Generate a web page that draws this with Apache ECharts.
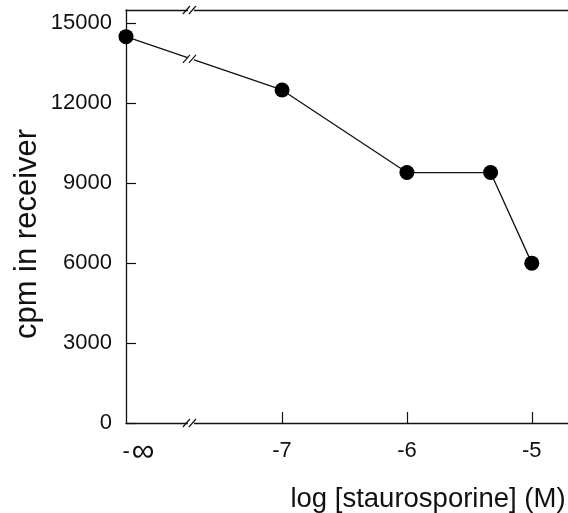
<!DOCTYPE html>
<html><head><meta charset="utf-8">
<script src="https://cdn.jsdelivr.net/npm/echarts@6/dist/echarts.min.js"></script>
<style>html,body{margin:0;padding:0;background:#fff}#c{width:568px;height:513px}</style>
</head><body><div id="c"></div>
<script>
// log concentration (x) — first value stands for -∞ (drawn left of the axis break)
const xValues = [-8.25, -7, -6, -5.33, -5];
const cpmValues = [14500, 12500, 9400, 9400, 6000];
const yTicks = [0, 3000, 6000, 9000, 12000, 15000];
const xTicks = [-7, -6, -5];
const xLabelPos = [-8.15, -7, -6, -5];
const breakX = -7.73;

const font = 'Liberation Sans, Arial, sans-serif';
const chart = echarts.init(document.getElementById('c'));
const lineData = xValues.map((x, i) => [x, cpmValues[i]]);
// y position of the break mark on the connecting segment (between first two points)
const segY = cpmValues[0] + (breakX - xValues[0]) / (xValues[1] - xValues[0]) * (cpmValues[1] - cpmValues[0]);

chart.setOption({
  animation: false,
  backgroundColor: '#fff',
  title: {
    text: 'log [staurosporine] (M)',
    left: 423, top: 480, textAlign: 'center',
    textStyle: {fontFamily: font, fontSize: 27.5, fontWeight: 'normal', color: '#111'}
  },
  graphic: [{
    type: 'text', x: 27, y: 234, rotation: Math.PI / 2,
    style: {text: 'cpm in receiver', font: '31px ' + font, fill: '#111', align: 'center', verticalAlign: 'middle'}
  }],
  grid: {left: 126, top: 10, right: 0, bottom: 90},
  xAxis: [{
    type: 'value', min: -8.25, max: -4.71, position: 'bottom',
    splitLine: {show: false},
    axisLine: {lineStyle: {color: '#111', width: 1.3}},
    axisTick: {inside: true, length: 11, customValues: xTicks, lineStyle: {color: '#111', width: 1.2}},
    axisLabel: {
      customValues: xLabelPos, margin: 17, fontFamily: font, fontSize: 22, color: '#111',
      formatter: v => v < -8 ? '{a|-}{b|\u221e}' : String(v),
      rich: {
        a: {fontFamily: font, fontSize: 22, lineHeight: 24, color: '#111'},
        b: {fontFamily: font, fontSize: 32, lineHeight: 24, color: '#111', padding: [0, 0, 0, 2]}
      }
    }
  }, {
    type: 'value', min: -8.25, max: -4.71, position: 'top',
    splitLine: {show: false},
    axisLine: {lineStyle: {color: '#111', width: 1.3}},
    axisTick: {show: false}, axisLabel: {show: false}
  }],
  yAxis: {
    type: 'value', min: 0, max: 15500,
    splitLine: {show: false},
    axisLine: {show: true, lineStyle: {color: '#111', width: 1.3}},
    axisTick: {show: true, inside: true, length: 10, customValues: yTicks, lineStyle: {color: '#111', width: 1.2}},
    axisLabel: {customValues: yTicks, margin: 14, fontFamily: font, fontSize: 22, color: '#111',
      formatter: v => String(v)}
  },
  series: [{
    type: 'line', data: lineData,
    symbol: 'circle', symbolSize: 15,
    itemStyle: {color: '#000'},
    lineStyle: {color: '#111', width: 1.3},
    z: 2
  }, {
    type: 'custom', coordinateSystem: 'cartesian2d', clip: false, z: 5,
    data: [[breakX, 15500], [breakX, segY], [breakX, 0]],
    renderItem: (params, api) => {
      const p = api.coord([api.value(0), api.value(1)]);
      const x = p[0], y = p[1];
      return {
        type: 'group', children: [
          {type: 'rect', shape: {x: x - 3, y: y - 3, width: 6, height: 6}, style: {fill: '#fff'}},
          {type: 'line', shape: {x1: x - 8, y1: y + 4, x2: x - 1, y2: y - 4}, style: {stroke: '#111', lineWidth: 1.2}},
          {type: 'line', shape: {x1: x - 2, y1: y + 4, x2: x + 5, y2: y - 4}, style: {stroke: '#111', lineWidth: 1.2}}
        ]
      };
    }
  }]
});
</script></body></html>
